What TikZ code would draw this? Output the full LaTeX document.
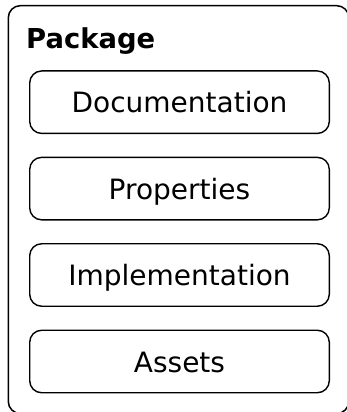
\documentclass[tikz,border=0pt]{standalone}
\usepackage{fontspec}
\setmainfont{DejaVu Sans}
\begin{document}
\begin{tikzpicture}[x=1pt,y=1pt,
  container/.style={draw=black,line width=1.5pt,rounded corners=12pt},
  part/.style={draw=black,line width=1.4pt,rounded corners=12pt,
    minimum width=299.6pt,minimum height=62.5pt,inner sep=0pt,
    text height=21.4pt,text depth=0pt,
    font=\fontsize{28}{33}\selectfont},
  title/.style={inner sep=0pt,anchor=base west,
    font=\fontsize{27.4}{32}\selectfont\bfseries}]
  \useasboundingbox (0,0) rectangle (347,412);
  % enclosing package frame (runs past the right and bottom edges)
  \draw[container] (8.3,-1.5) rectangle (348.8,406.3);
  \node[title] (pkg) at (26.0,363.7) {Package};
  % contents of the package
  \node[part] (doc)  at (179.5,309.8) {Documentation};
  \node[part] (prop) at (179.5,223.4) {Properties};
  \node[part] (impl) at (179.5,137.0) {Implementation};
  \node[part] (assets) at (179.5,50.5) {Assets};
\end{tikzpicture}
\end{document}
